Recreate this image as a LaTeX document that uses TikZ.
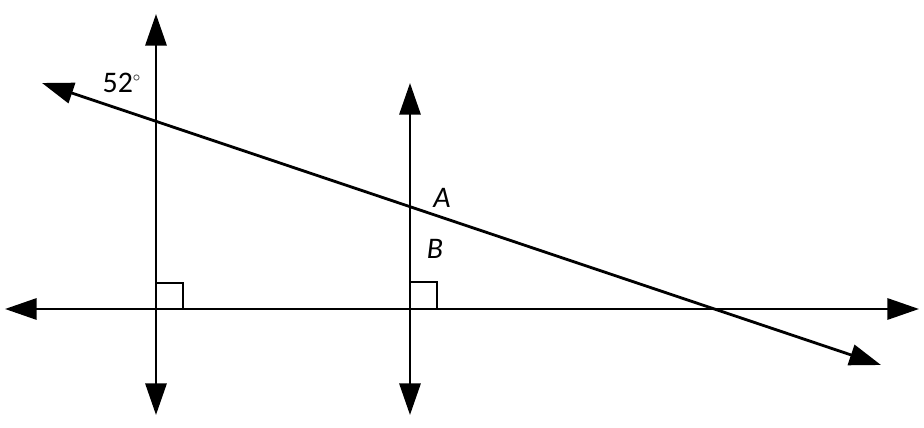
\documentclass[tikz,border=0pt]{standalone}
\usepackage{fontspec}
\setmainfont{Carlito}
\usetikzlibrary{arrows.meta}

\begin{document}
\begin{tikzpicture}[x=0.02cm, y=-0.02cm,
    ray/.style={line width=1.6pt, {Triangle[length=18pt,width=12pt]}-{Triangle[length=18pt,width=12pt]}},
    lbl/.style={font=\fontsize{17}{20}\selectfont}]
        \useasboundingbox (0,0) rectangle (924,428);
        \coordinate (hl) at (5,309);    \coordinate (hr) at (919,309);
        \coordinate (vat) at (156,14);  \coordinate (vab) at (156,415);
        \coordinate (vbt) at (410,83);  \coordinate (vbb) at (410,415);
        \coordinate (tl) at (42,83);    \coordinate (tr) at (881,365);
        \draw[ray] (hl) -- (hr);
        \draw[ray] (vat) -- (vab);
        \draw[ray] (vbt) -- (vbb);
        \draw[ray] (tl) -- (tr);
        \draw[line width=1.2pt] (156,283) -- (183,283) -- (183,309);
        \draw[line width=1.2pt] (410,282) -- (437,282) -- (437,309);
        \node[lbl] (ang) at (122,83) {52$^{\scriptscriptstyle\circ}$};
        \node[lbl] (A) at (442,198) {\itshape A};
        \node[lbl] (B) at (435,249) {\itshape B};
    \end{tikzpicture}
\end{document}
